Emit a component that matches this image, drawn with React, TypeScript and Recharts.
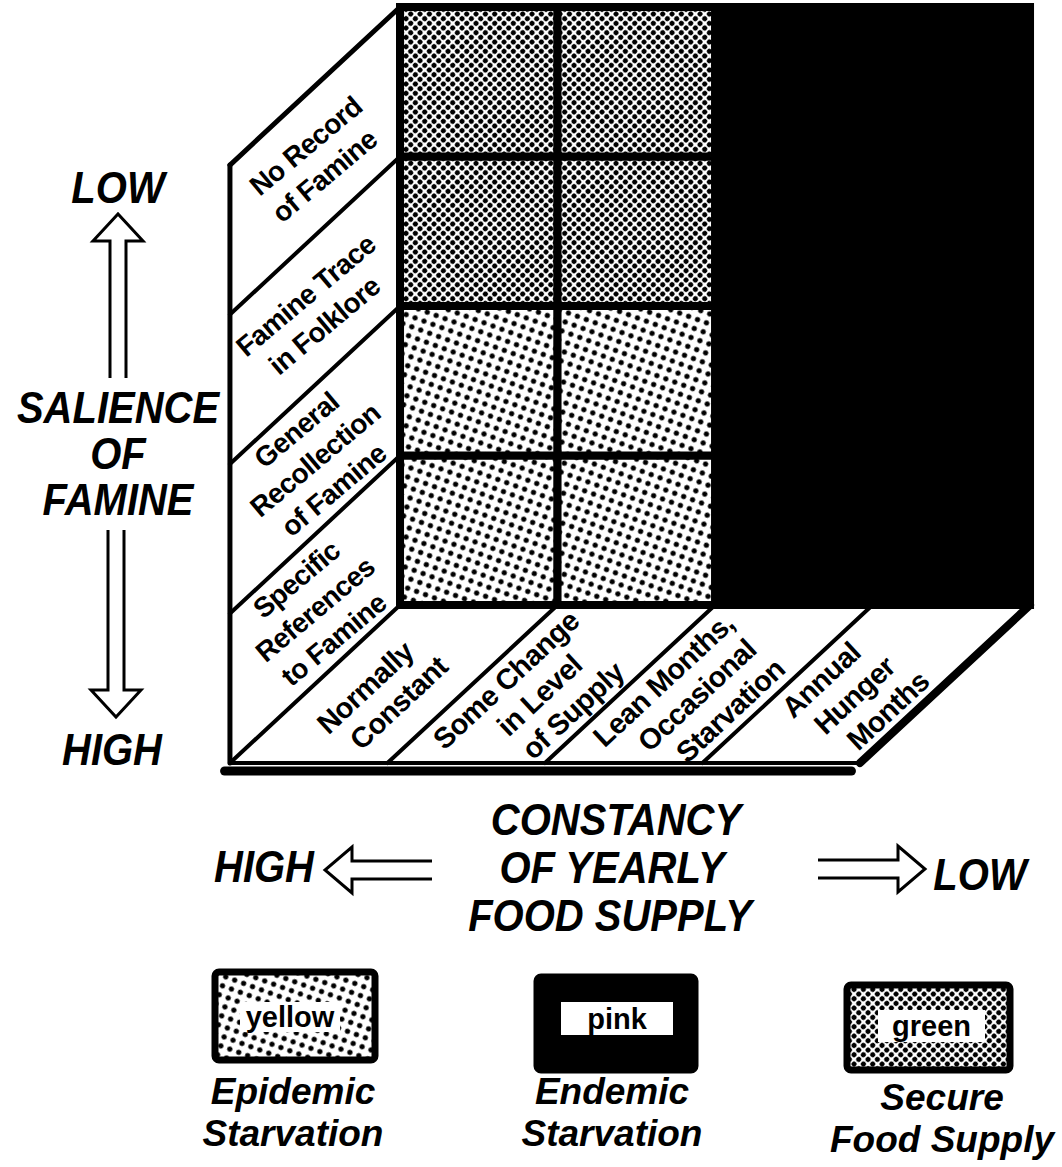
import React from 'react';
import { ComposedChart, XAxis, YAxis, ReferenceArea, ReferenceLine, Scatter } from 'recharts';

// salience of famine, from HIGH (bottom row) to LOW (top row)
const salienceLevels = [
  ['Specific', 'References', 'to Famine'],
  ['General', 'Recollection', 'of Famine'],
  ['Famine Trace', 'in Folklore'],
  ['No Record', 'of Famine'],
];

// constancy of yearly food supply, from HIGH (left) to LOW (right)
const constancyLevels = [
  ['Normally', 'Constant'],
  ['Some Change', 'in Level', 'of Supply'],
  ['Lean Months,', 'Occasional', 'Starvation'],
  ['Annual', 'Hunger', 'Months'],
];

// cell classes, rows bottom -> top, columns left -> right
const cellRows = [
  ['yellow', 'yellow', 'pink', 'pink'],
  ['yellow', 'yellow', 'pink', 'pink'],
  ['green', 'green', 'pink', 'pink'],
  ['green', 'green', 'pink', 'pink'],
];

const legendKeys = ['yellow', 'pink', 'green'];
const legendNames = [
  ['Epidemic', 'Starvation'],
  ['Endemic', 'Starvation'],
  ['Secure', 'Food Supply'],
];

const FONT = '"Liberation Sans", Arial, Helvetica, sans-serif';
const W = 1062;
const H = 1167;

// oblique projection: depth runs from the back wall (0) to the front edge (1)
const DEPTH_X = -1.08;
const DEPTH_Y = -1.057;
const X_DOMAIN: [number, number] = [-2.54, 4.203];
const Y_DOMAIN: [number, number] = [-3.759, 4.047];

const project = (col: number, row: number, depth: number) => ({
  x: col + depth * DEPTH_X,
  y: row + depth * DEPTH_Y,
});

const nCols = constancyLevels.length;
const nRows = salienceLevels.length;

const leftLabels = salienceLevels.map((lines, r) => ({ ...project(0, r + 0.5, 0.5), lines }));
const floorLabels = constancyLevels.map((lines, c) => ({ ...project(c + 0.5, 0, 0.57), lines }));

type Seg = { a: { x: number; y: number }; b: { x: number; y: number }; w: number };
const segments: Seg[] = [];
// left wall
segments.push({ a: project(0, nRows, 0), b: project(0, nRows, 1), w: 5 });
segments.push({ a: project(0, nRows, 1), b: project(0, 0, 1), w: 5 });
for (let r = 0; r < nRows; r++) segments.push({ a: project(0, r, 0), b: project(0, r, 1), w: 4 });
// floor
for (let c = 1; c < nCols; c++) segments.push({ a: project(c, 0, 0), b: project(c, 0, 1), w: 4 });
segments.push({ a: project(nCols, 0, 0), b: project(nCols, 0, 1), w: 8 });
segments.push({ a: project(0, 0, 1), b: project(nCols, 0, 1), w: 4 });
// drop shadow under the front edge
segments.push({ a: project(0.02, 0, 1.05), b: project(nCols, 0, 1.05), w: 9 });

const makeLabel = (angle: number, size: number, lh: number, shift: number) => (props: any) => {
  const { cx, cy, payload } = props;
  const lines: string[] = payload.lines;
  const mid = (lines.length - 1) / 2;
  return (
    <text
      transform={`translate(${cx},${cy}) rotate(${angle})`}
      textAnchor="middle"
      fontFamily={FONT}
      fontWeight={700}
      fontSize={size}
      letterSpacing={-0.6}
      fill="#000"
    >
      {lines.map((t, i) => (
        <tspan key={i} x={(i - mid) * shift} y={(i - mid) * lh + size * 0.35}>
          {t}
        </tspan>
      ))}
    </text>
  );
};

const LeftLabel = makeLabel(-40, 28, 35, -5);
const FloorLabel = makeLabel(-43, 29, 34, 14);

function Patterns() {
  return (
    <svg width={0} height={0} style={{ position: 'absolute' }}>
      <defs>
        <pattern id="pat-green" width={6.6} height={6.6} patternUnits="userSpaceOnUse" patternTransform="rotate(45)">
          <rect width={6.6} height={6.6} fill="#fff" />
          <circle cx={3.3} cy={3.3} r={2.5} fill="#000" />
        </pattern>
        <pattern id="pat-yellow" width={9.5} height={9.5} patternUnits="userSpaceOnUse" patternTransform="rotate(20)">
          <rect width={9.5} height={9.5} fill="#fff" />
          <circle cx={4.75} cy={4.75} r={2.6} fill="#000" />
        </pattern>
      </defs>
    </svg>
  );
}

function Title({ x, y, size = 40, sy = 1.1, children }: { x: number; y: number; size?: number; sy?: number; children: React.ReactNode }) {
  return (
    <text
      transform={`translate(${x},${y}) scale(1,${sy})`}
      textAnchor="middle"
      fontFamily={FONT}
      fontWeight={700}
      fontStyle="italic"
      fontSize={size}
      fill="#000"
    >
      {children}
    </text>
  );
}

const arrowStyle = { fill: '#fff', stroke: '#000', strokeWidth: 3, strokeLinejoin: 'miter' as const };

function Overlay() {
  const boxes = [
    { x: 215, y: 972, w: 160, h: 88, lx: 240, ly: 1002, lw: 100, lh: 30 },
    { x: 537, y: 977, w: 158, h: 93, lx: 561, ly: 1002, lw: 112, lh: 33 },
    { x: 847, y: 985, w: 163, h: 85, lx: 878, ly: 1010, lw: 107, lh: 32 },
  ];
  const names = [
    { x: 293, y: 1104 },
    { x: 612, y: 1104 },
    { x: 942, y: 1110 },
  ];
  return (
    <svg width={W} height={H} style={{ position: 'absolute', left: 0, top: 0, pointerEvents: 'none' }}>
      <Title x={118} y={203}>LOW</Title>
      <path d="M110,378 L110,241 L93,241 L118,214 L143,241 L126,241 L126,378" {...arrowStyle} />
      <Title x={118} y={423}>SALIENCE</Title>
      <Title x={118} y={469}>OF</Title>
      <Title x={118} y={515}>FAMINE</Title>
      <path d="M108,530 L108,690 L91,690 L116,717 L141,690 L124,690 L124,530" {...arrowStyle} />
      <Title x={112} y={765}>HIGH</Title>

      <Title x={616} y={835}>CONSTANCY</Title>
      <Title x={612} y={883}>OF YEARLY</Title>
      <Title x={610} y={931}>FOOD SUPPLY</Title>
      <Title x={264} y={882}>HIGH</Title>
      <path d="M432,861 L352,861 L352,847 L325,870 L352,893 L352,879 L432,879" {...arrowStyle} />
      <path d="M818,860 L898,860 L898,846 L925,869 L898,892 L898,878 L818,878" {...arrowStyle} />
      <Title x={980} y={890}>LOW</Title>

      {legendKeys.map((k, i) => {
        const b = boxes[i];
        return (
          <g key={k}>
            <rect
              x={b.x}
              y={b.y}
              width={b.w}
              height={b.h}
              rx={4}
              fill={k === 'pink' ? '#000' : `url(#pat-${k})`}
              stroke="#000"
              strokeWidth={7}
            />
            <rect x={b.lx} y={b.ly} width={b.lw} height={b.lh} fill="#fff" />
            <text
              x={b.lx + b.lw / 2}
              y={b.ly + b.lh / 2 + 10}
              textAnchor="middle"
              fontFamily={FONT}
              fontWeight={700}
              fontSize={29}
              fill="#000"
            >
              {k}
            </text>
            {legendNames[i].map((t, j) => (
              <Title key={j} x={names[i].x} y={names[i].y + j * 42} size={37} sy={1.0}>
                {t}
              </Title>
            ))}
          </g>
        );
      })}
    </svg>
  );
}

export default function App() {
  return (
    <div style={{ position: 'absolute', left: 0, top: 0, width: W, height: H, background: '#fff' }}>
      <Patterns />
      <ComposedChart width={W} height={H} margin={{ top: 0, right: 0, bottom: 0, left: 0 }}>
        <XAxis type="number" dataKey="x" domain={X_DOMAIN} allowDataOverflow hide />
        <YAxis type="number" dataKey="y" domain={Y_DOMAIN} allowDataOverflow hide />
        <ReferenceArea
          x1={0}
          x2={nCols}
          y1={0}
          y2={nRows}
          fill="#000"
          fillOpacity={1}
          stroke="#000"
          strokeWidth={8}
          ifOverflow="visible"
        />
        {cellRows.map((row, r) =>
          row.map((k, c) =>
            k === 'pink' ? null : (
              <ReferenceArea
                key={`${r}-${c}`}
                x1={c}
                x2={c + 1}
                y1={r}
                y2={r + 1}
                fill={`url(#pat-${k})`}
                fillOpacity={1}
                stroke="#000"
                strokeWidth={8}
                ifOverflow="visible"
              />
            ),
          ),
        )}
        {segments.map((s, i) => (
          <ReferenceLine
            key={i}
            segment={[s.a, s.b]}
            stroke="#000"
            strokeWidth={s.w}
            strokeLinecap="round"
            ifOverflow="visible"
          />
        ))}
        <Scatter data={leftLabels} dataKey="y" shape={LeftLabel} isAnimationActive={false} />
        <Scatter data={floorLabels} dataKey="y" shape={FloorLabel} isAnimationActive={false} />
      </ComposedChart>
      <Overlay />
    </div>
  );
}
